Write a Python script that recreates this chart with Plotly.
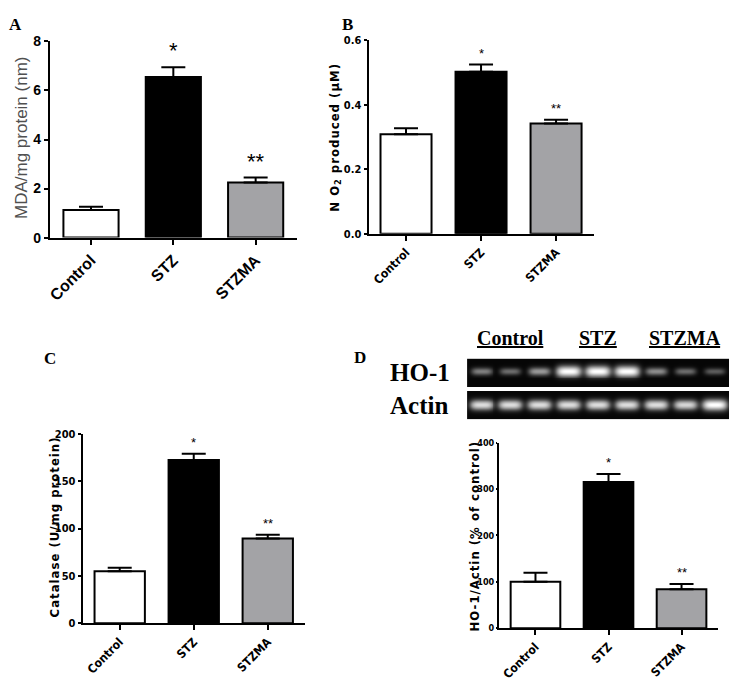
import numpy as np
import plotly.graph_objects as go

# ---------------- data ----------------
groups = ["Control", "STZ", "STZMA"]
bar_colors = ["#ffffff", "#000000", "#a3a3a6"]
sig = ["", "*", "**"]

mda_mean = [1.13, 6.55, 2.25]
mda_err = [0.13, 0.40, 0.20]

no2_mean = [0.309, 0.503, 0.342]
no2_err = [0.018, 0.022, 0.012]

cat_mean = [55.0, 172.5, 89.5]
cat_err = [3.5, 6.5, 4.0]

ho1_mean = [100.0, 315.0, 84.0]
ho1_err = [19.5, 17.5, 11.0]

# gel band intensities (9 lanes: 3 Control, 3 STZ, 3 STZMA)
gel_lanes = list(range(9))
ho1_band = [0.45, 0.38, 0.55, 1.0, 1.0, 1.0, 0.50, 0.38, 0.32]
actin_band = [0.85, 0.85, 0.85, 0.85, 0.85, 0.85, 0.85, 0.82, 1.0]

# page is 739x691; the default 8px body margin surrounds the figure
OFF = 8
W, H = 739 - 2 * OFF, 691 - 2 * OFF


def fx(x):
    return (x - OFF) / W


def fy(y):
    return 1 - (y - OFF) / H


def px(x0, x1):
    return [fx(x0), fx(x1)]


def py(ytop, ybot):
    return [fy(ybot), fy(ytop)]


cond = "DejaVu Sans Condensed, Liberation Sans Narrow, Liberation Sans"
sp = '<span style="letter-spacing:1px">{}</span>'

panels = [
    dict(mean=mda_mean, err=mda_err, xd=px(47, 295), yd=py(34, 235), rng=[0, 8], dt=2,
         fmt="", tickfont=dict(family="Liberation Sans", size=14, color="black"),
         catfont=dict(family="Liberation Sans", size=16, color="black"), width=0.67,
         title="MDA/mg protein (nm)", tx=18, ty=133, ticklen=4,
         titlefont=dict(family="Liberation Sans", size=17, color="#505050"),
         starsize=22),
    dict(mean=no2_mean, err=no2_err, xd=px(367, 593), yd=py(33, 231), rng=[0, 0.6], dt=0.2,
         fmt=".1f", tickfont=dict(family=cond, size=11, color="black"),
         catfont=dict(family=cond, size=12, color="black"), width=0.68,
         title="<b>" + sp.format("N O<sub>2</sub> produced (μM)") + "</b>", tx=333, ty=132,
         ticklen=3, titlefont=dict(family=cond, size=13, color="black"),
         starsize=13),
    dict(mean=cat_mean, err=cat_err, xd=px(80, 303), yd=py(436, 630), rng=[0, 200], dt=50,
         fmt="", tickfont=dict(family=cond, size=11, color="black"),
         catfont=dict(family=cond, size=12, color="black"), width=0.68,
         title="<b>" + sp.format("Catalase (U/mg protein)") + "</b>", tx=52, ty=531,
         ticklen=3, titlefont=dict(family=cond, size=13, color="black"),
         starsize=13),
    dict(mean=ho1_mean, err=ho1_err, xd=px(498, 718), yd=py(445, 635), rng=[0, 400], dt=100,
         fmt="", tickfont=dict(family=cond, size=9, color="black"),
         catfont=dict(family=cond, size=12, color="black"), width=0.68,
         title="<b>" + sp.format("HO-1/Actin (% of control)") + "</b>", tx=473, ty=541,
         ticklen=1, titlefont=dict(family=cond, size=13, color="black"),
         starsize=13),
]

fig = go.Figure()
layout = dict(width=W, height=H, autosize=False, margin=dict(l=0, r=0, t=0, b=0),
              paper_bgcolor="white", plot_bgcolor="white", showlegend=False)
annotations = []

for i, p in enumerate(panels):
    n = i + 1
    xa = "x" if n == 1 else f"x{n}"
    ya = "y" if n == 1 else f"y{n}"
    fig.add_trace(go.Bar(
        x=groups, y=p["mean"], xaxis=xa, yaxis=ya, width=p["width"],
        marker=dict(color=bar_colors, line=dict(color="black", width=2)),
        error_y=dict(type="data", symmetric=False, array=p["err"], arrayminus=[0, 0, 0],
                     color="black", thickness=2, width=12),
        hoverinfo="skip"))
    ticktext = [f"<b>{g}</b>" for g in groups]
    layout["xaxis" if n == 1 else f"xaxis{n}"] = dict(
        domain=p["xd"], anchor=ya, type="category", range=[-0.5, 2.5],
        showline=True, linecolor="black", linewidth=2, ticks="outside", ticklen=5,
        tickwidth=2, tickcolor="black", tickangle=-45, tickmode="array",
        tickvals=groups, ticktext=ticktext, tickfont=p["catfont"], showgrid=False,
        zeroline=False, fixedrange=True)
    tv = list(np.arange(p["rng"][0], p["rng"][1] + p["dt"] / 2, p["dt"]))
    tt = [f"<b>{v:{p['fmt']}}</b>" if p["fmt"] else f"<b>{int(round(v))}</b>" for v in tv]
    layout["yaxis" if n == 1 else f"yaxis{n}"] = dict(
        domain=p["yd"], anchor=xa, range=p["rng"], showline=True, linecolor="black",
        linewidth=2, ticks="outside", ticklen=p["ticklen"], tickwidth=2, tickcolor="black",
        tickmode="array", tickvals=tv, ticktext=tt, tickfont=p["tickfont"],
        showgrid=False, zeroline=False, fixedrange=True)
    annotations.append(dict(
        text=p["title"], xref="paper", yref="paper",
        x=fx(p["tx"]), y=fy(p["ty"]), textangle=-90, showarrow=False,
        font=p["titlefont"], xanchor="center", yanchor="middle"))
    for g, m, e, s in zip(groups, p["mean"], p["err"], sig):
        if s:
            annotations.append(dict(
                text=s, xref=xa, yref=ya, x=g, y=m + e, yanchor="bottom", showarrow=False,
                yshift=2, font=dict(family="Liberation Sans", size=p["starsize"], color="black")))

# ---------------- gels ----------------
gx = np.linspace(-0.5, 8.5, 264)
gy = np.linspace(0, 1, 30)
GX, GY = np.meshgrid(gx, gy)


def gel_image(intensity, yc):
    z = np.zeros_like(GX)
    for lane, I in zip(gel_lanes, intensity):
        w = 0.32 + 0.11 * I
        h = 0.08 + 0.11 * I
        z += I * np.exp(-(np.abs(GX - lane) / w) ** 4) * np.exp(-((GY - yc) / h) ** 2)
    return np.clip(z, 0, 1)


gel_scale = [[0, "#060606"], [0.5, "#8c8c8c"], [1, "#ffffff"]]
for n, (inten, yc, yd) in zip([5, 6], [(ho1_band, 0.55, py(359, 388)), (actin_band, 0.5, py(392, 421))]):
    fig.add_trace(go.Heatmap(x=gx, y=gy, z=gel_image(inten, yc), xaxis=f"x{n}", yaxis=f"y{n}",
                             colorscale=gel_scale, zmin=0, zmax=1, showscale=False,
                             hoverinfo="skip"))
    layout[f"xaxis{n}"] = dict(domain=px(466, 729), anchor=f"y{n}", range=[-0.5, 8.5],
                               visible=False, fixedrange=True)
    layout[f"yaxis{n}"] = dict(domain=yd, anchor=f"x{n}", range=[0, 1], visible=False,
                               fixedrange=True)

serif = "Liberation Serif"
for lbl, lane in zip(groups, [1, 4, 7]):
    annotations.append(dict(text=f"<b><u>{lbl}</u></b>", xref="x5", yref="paper", x=lane,
                            y=fy(338), showarrow=False, xanchor="center", yanchor="middle",
                            font=dict(family=serif, size=20, color="black")))
for lbl, yc in [("HO-1", 373), ("Actin", 407)]:
    annotations.append(dict(text=f"<b>{lbl}</b>", xref="paper", yref="paper", x=fx(387),
                            y=fy(yc), showarrow=False, xanchor="left", yanchor="middle",
                            font=dict(family=serif, size=25, color="black")))

for lbl, x, y in [("A", 4, 17), ("B", 338, 17), ("C", 39, 359), ("D", 350, 358)]:
    annotations.append(dict(text=f"<b>{lbl}</b>", xref="paper", yref="paper", x=fx(x),
                            y=fy(y), showarrow=False, xanchor="left", yanchor="middle",
                            font=dict(family=serif, size=17, color="black")))

layout["annotations"] = annotations
fig.update_layout(**layout)
fig.write_html("out.html", config=dict(displayModeBar=False, staticPlot=True))
